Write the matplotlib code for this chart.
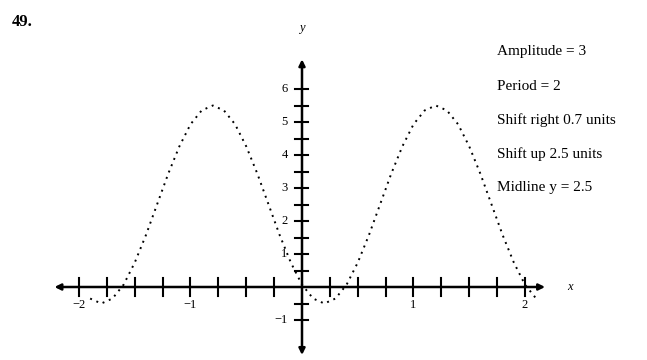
import matplotlib.pyplot as plt

plt.rcParams['font.family'] = ['Liberation Serif', 'DejaVu Serif']

# values
x_vals = [-1.9, -1.8, -1.7, -1.6, -1.5, -1.4, -1.3, -1.2, -1.1, -1.0,
          -0.9, -0.8, -0.7, -0.6, -0.5, -0.4, -0.3, -0.2, -0.1, 0.0,
          0.1, 0.2, 0.3, 0.4, 0.5, 0.6, 0.7, 0.8, 0.9, 1.0,
          1.1, 1.2, 1.3, 1.4, 1.5, 1.6, 1.7, 1.8, 1.9, 2.0, 2.1]
y_vals = [-0.35, -0.5, -0.35, 0.07, 0.74, 1.57, 2.5, 3.43, 4.26, 4.93,
          5.35, 5.5, 5.35, 4.93, 4.26, 3.43, 2.5, 1.57, 0.74, 0.07,
          -0.35, -0.5, -0.35, 0.07, 0.74, 1.57, 2.5, 3.43, 4.26, 4.93,
          5.35, 5.5, 5.35, 4.93, 4.26, 3.43, 2.5, 1.57, 0.74, 0.07, -0.35]

x_ticks = [-2 + 0.25 * i for i in range(17) if i != 8]
y_ticks = [-1 + 0.5 * i for i in range(15) if i != 2]
x_labels = {-2: '−2', -1: '−1', 1: '1', 2: '2'}
y_labels = {-1: '−1', 1: '1', 2: '2', 3: '3', 4: '4', 5: '5', 6: '6'}
notes = ['Amplitude = 3', 'Period = 2', 'Shift right 0.7 units',
         'Shift up 2.5 units', 'Midline y = 2.5']

fig = plt.figure(figsize=(6.47, 3.6), dpi=100)
ax = fig.add_axes([0, 0, 1, 1])
ax.set_xlim(-302 / 111.5, 345 / 111.5)
ax.set_ylim(-73 / 33, 287 / 33)
ax.axis('off')

# axes with arrows
ax.annotate('', xy=(2.18, 0), xytext=(-2.22, 0),
            arrowprops=dict(arrowstyle='<|-|>', lw=1.8, color='black',
                            mutation_scale=9, shrinkA=0, shrinkB=0))
ax.annotate('', xy=(0, 6.9), xytext=(0, -2.06),
            arrowprops=dict(arrowstyle='<|-|>', lw=1.8, color='black',
                            mutation_scale=9, shrinkA=0, shrinkB=0))

for t in x_ticks:
    ax.plot([t, t], [-0.27, 0.27], color='black', lw=1.5)
for t in y_ticks:
    ax.plot([-0.065, 0.055], [t, t], color='black', lw=1.5)

for t, s in x_labels.items():
    ax.text(t, -0.35, s, ha='center', va='top', fontsize=9)
for t, s in y_labels.items():
    ax.text(-0.13, t, s, ha='right', va='center', fontsize=9)

ax.text(2.4, 0, 'x', ha='center', va='center', fontsize=9, style='italic')
ax.text(0, 7.85, 'y', ha='center', va='center', fontsize=9, style='italic')

ax.plot(x_vals, y_vals, color='black', lw=1.4, ls=(0, (1, 2.5)))

ax.text(12 / 647, 1 - 22 / 360, '49.', transform=ax.transAxes,
        fontsize=12, fontweight='bold', va='center')

for i, s in enumerate(notes):
    ax.text(497 / 647, 1 - (52 + 34 * i) / 360, s, transform=ax.transAxes,
            fontsize=11, va='center')

fig.savefig('out.png', dpi=100)
